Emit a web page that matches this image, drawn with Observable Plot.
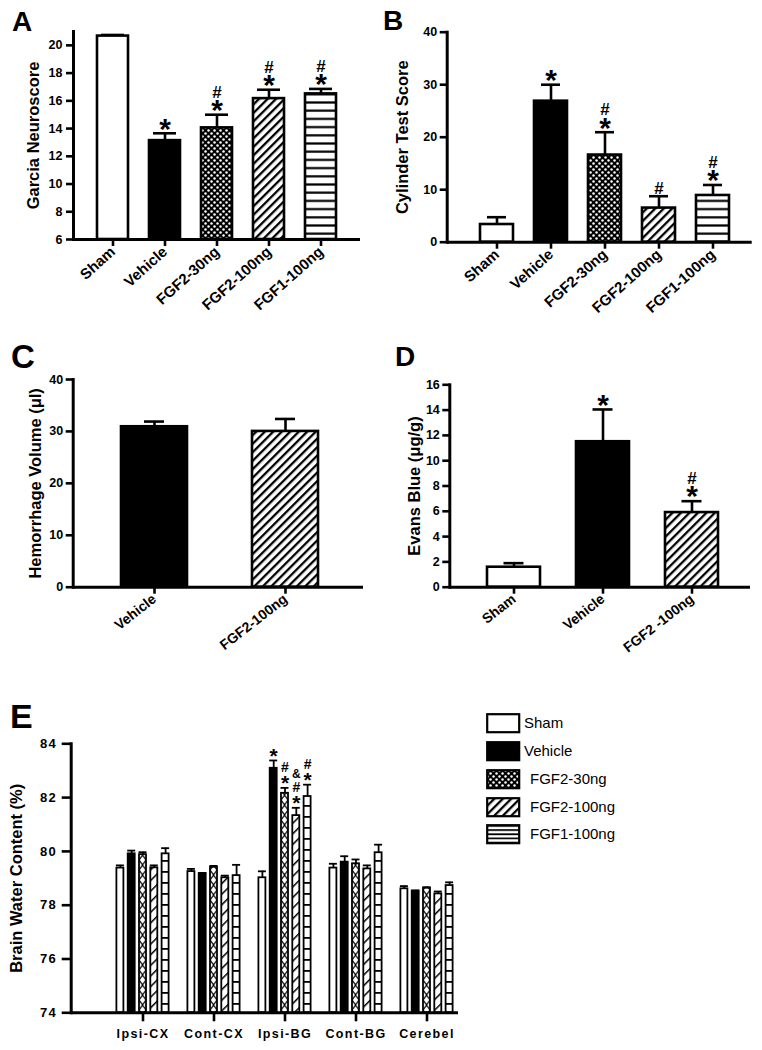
<!DOCTYPE html>
<html><head><meta charset="utf-8">
<script src="https://cdn.jsdelivr.net/npm/d3@7"></script>
<script src="https://cdn.jsdelivr.net/npm/@observablehq/plot@0.6"></script>
<style>
body{margin:0;background:#fff;font-family:"Liberation Sans",Arial,sans-serif;}
#root{position:relative;width:762px;height:1050px;overflow:hidden;background:#fff;}
.panel{position:absolute;}
.letter{position:absolute;font-weight:bold;line-height:1;color:#000;}
.lrow{position:absolute;height:20px;}
.lrow svg{position:absolute;left:0;top:0;}
.lrow span{position:absolute;top:1px;font-size:15px;white-space:pre;color:#000;}
.pe g[aria-label="x-axis tick label"] text,.pe g[aria-label="y-axis tick label"] text{letter-spacing:1.4px;}
</style></head><body>
<svg width="0" height="0" style="position:absolute">
<defs>
  <pattern id="dots" patternUnits="userSpaceOnUse" width="6" height="6">
    <rect width="6" height="6" fill="black"/>
    <circle cx="1.5" cy="1.5" r="1.25" fill="white"/>
    <circle cx="4.5" cy="4.5" r="1.25" fill="white"/>
  </pattern>
  <pattern id="diag" patternUnits="userSpaceOnUse" width="6" height="6" patternTransform="rotate(45)">
    <rect width="6" height="6" fill="white"/>
    <rect width="2.3" height="6" fill="black"/>
  </pattern>
  <pattern id="hlines" patternUnits="userSpaceOnUse" width="8" height="8.2">
    <rect width="8" height="8.2" fill="white"/>
    <rect y="3" width="8" height="2.2" fill="black"/>
  </pattern>
  <pattern id="diagE" patternUnits="userSpaceOnUse" width="7.5" height="7.5" patternTransform="rotate(45)">
    <rect width="7.5" height="7.5" fill="white"/>
    <rect width="1.5" height="7.5" fill="black"/>
  </pattern>
  <pattern id="hlinesE" patternUnits="userSpaceOnUse" width="10" height="11">
    <rect width="10" height="11" fill="white"/>
    <rect y="4" width="10" height="1.8" fill="black"/>
  </pattern>
  <pattern id="xhatch" patternUnits="userSpaceOnUse" x="139" width="7.1" height="10">
    <rect width="7.1" height="10" fill="white"/>
    <path d="M0,0L7.1,10M7.1,0L0,10" stroke="black" stroke-width="1.3"/>
  </pattern>
  <pattern id="hlinesL" patternUnits="userSpaceOnUse" width="10" height="4.2">
    <rect width="10" height="4.2" fill="white"/>
    <rect y="1" width="10" height="1.7" fill="black"/>
  </pattern>
</defs></svg>
<div id="root"></div>
<script>
// ---------- DATA ----------
// Panel A: Garcia Neuroscore
const catsA = ["Sham", "Vehicle", "FGF2-30ng", "FGF2-100ng", "FGF1-100ng"];
const meanA = [20.67, 13.13, 14.05, 16.16, 16.5];
const semA  = [0.08, 0.53, 0.95, 0.64, 0.36];
const noteA = ["", "*", "*#", "*#", "*#"];
const ticksA = [6, 8, 10, 12, 14, 16, 18, 20];

// Panel B: Cylinder Test Score
const catsB = ["Sham", "Vehicle", "FGF2-30ng", "FGF2-100ng", "FGF1-100ng"];
const meanB = [3.37, 26.86, 16.6, 6.5, 8.9];
const semB  = [1.39, 3.14, 4.35, 2.26, 2.0];
const noteB = ["", "*", "*#", "#", "*#"];
const ticksB = [0, 10, 20, 30, 40];

// Panel C: Hemorrhage Volume
const catsC = ["Vehicle", "FGF2-100ng"];
const meanC = [30.9, 30.0];
const semC  = [1.0, 2.4];
const noteC = ["", ""];
const ticksC = [0, 10, 20, 30, 40];

// Panel D: Evans Blue
const catsD = ["Sham", "Vehicle", "FGF2 -100ng"];
const meanD = [1.58, 11.5, 5.9];
const semD  = [0.32, 2.55, 0.9];
const noteD = ["", "*", "*#"];
const ticksD = [0, 2, 4, 6, 8, 10, 12, 14, 16];

// Panel E: Brain Water Content
const regionsE = ["Ipsi-CX", "Cont-CX", "Ipsi-BG", "Cont-BG", "Cerebel"];
const seriesE  = ["Sham", "Vehicle", "FGF2-30ng", "FGF2-100ng", "FGF1-100ng"];
const shamE     = [79.38, 79.25, 79.02, 79.38, 78.61];
const vehicleE  = [79.91, 79.17, 83.09, 79.60, 78.52];
const fgf2_30E  = [79.88, 79.41, 82.16, 79.54, 78.63];
const fgf2_100E = [79.39, 79.02, 81.33, 79.35, 78.42];
const fgf1_100E = [79.91, 79.10, 82.04, 79.95, 78.73];
const shamSemE     = [0.10, 0.10, 0.24, 0.16, 0.10];
const vehicleSemE  = [0.12, 0.03, 0.29, 0.22, 0.03];
const fgf2_30SemE  = [0.09, 0.05, 0.20, 0.16, 0.04];
const fgf2_100SemE = [0.09, 0.08, 0.29, 0.13, 0.09];
const fgf1_100SemE = [0.21, 0.40, 0.44, 0.30, 0.12];
const shamNoteE     = ["", "", "", "", ""];
const vehicleNoteE  = ["", "", "*", "", ""];
const fgf2_30NoteE  = ["", "", "*#", "", ""];
const fgf2_100NoteE = ["", "", "*#&", "", ""];
const fgf1_100NoteE = ["", "", "*#", "", ""];
const ticksE = [74, 76, 78, 80, 82, 84];

// ---------- STYLE ----------
const FONT = "'Liberation Sans', Arial, sans-serif";
const FILL = {"Sham": "white", "Vehicle": "black", "FGF2-30ng": "url(#dots)", "FGF2-100ng": "url(#diag)", "FGF2 -100ng": "url(#diag)", "FGF1-100ng": "url(#hlines)"};
const FILL_E = {"Sham": "white", "Vehicle": "black", "FGF2-30ng": "url(#xhatch)", "FGF2-100ng": "url(#diagE)", "FGF1-100ng": "url(#hlinesE)"};
const FILL_L = {"Sham": "white", "Vehicle": "black", "FGF2-30ng": "url(#dots)", "FGF2-100ng": "url(#diag)", "FGF1-100ng": "url(#hlinesL)"};
const GLYPH_C = {"*": 0.46, "#": 0.35, "&": 0.36};

function noteMarks(rows, opts, fs, base, stepL, extra = {}) {
  const out = [];
  for (const [, rs] of d3.group(rows, d => d.sym + "|" + d.level)) {
    const sym = rs[0].sym, level = rs[0].level, f = fs[sym];
    const dy = -(base + level * stepL) - (0.32 - GLYPH_C[sym]) * f;
    out.push(Plot.text(rs, {...opts, text: () => sym, fontSize: f, fontWeight: "bold", dy, ...extra}));
  }
  return out;
}

const root = document.getElementById("root");
function place(el, left, top) {
  const d = document.createElement("div");
  d.className = "panel"; d.style.left = left + "px"; d.style.top = top + "px";
  d.appendChild(el); root.appendChild(d);
}
function letter(t, left, top, fs) {
  const d = document.createElement("div");
  d.className = "letter"; d.textContent = t;
  d.style.left = left + "px"; d.style.top = top + "px"; d.style.fontSize = fs + "px";
  root.appendChild(d);
}

function barPanel(c) {
  const n = c.cats.length;
  const step = (c.xRange[1] - c.xRange[0]) / n;
  const pi = 1 - c.bw / step;
  const rows = c.cats.map((k, i) => ({cat: k, mean: c.means[i], top: c.means[i] + c.sems[i]}));
  const nrows = [];
  rows.forEach((r, i) => [...c.notes[i]].forEach((s, l) => nrows.push({cat: r.cat, top: r.top, sym: s, level: l})));
  const marks = [
    Plot.ruleX(rows, {x: "cat", y1: "mean", y2: "top", strokeWidth: 2.6}),
    Plot.tickY(rows, {x: "cat", y: "top", strokeWidth: 2.6, inset: (c.bw - c.capW) / 2}),
    ...rows.map(r => Plot.barY([r], {x: "cat", y1: c.yDomain[0], y2: "mean", fill: FILL[r.cat], stroke: "black", strokeWidth: 2.6})),
    ...noteMarks(nrows, {x: "cat", y: "top"}, {"*": 30, "#": 17, "&": 16}, 8.5, 14.5),
    Plot.ruleY([c.yDomain[0]], {strokeWidth: 3}),
    Plot.frame({anchor: "left", strokeWidth: 3}),
    Plot.axisY({ticks: c.yTicks, tickSize: 7, tickPadding: c.tickPad, strokeWidth: 2.6, fontSize: 12.5, fontWeight: "bold", label: null}),
    Plot.axisX({tickSize: 7, tickPadding: 3, tickRotate: c.rot, fontSize: c.xFs, fontWeight: "bold", strokeWidth: 2.6, label: null}),
    Plot.text([c.yLabel], {frameAnchor: "left", textAnchor: "middle", rotate: -90, dx: c.labelDx, fontSize: 16.5, fontWeight: "bold"})
  ];
  return Plot.plot({
    width: c.W, height: c.H,
    marginLeft: c.mL, marginTop: c.mT, marginBottom: c.mB, marginRight: c.mR,
    x: {domain: c.cats, range: c.xRange, paddingInner: pi, paddingOuter: pi / 2},
    y: {domain: c.yDomain},
    style: {fontFamily: FONT, color: "black", background: "transparent", overflow: "visible"},
    marks
  });
}

place(barPanel({cats: catsA, means: meanA, sems: semA, notes: noteA, yDomain: [6, 21], yTicks: ticksA,
  yLabel: "Garcia Neuroscore", W: 362, H: 330, mL: 73, mT: 31, mB: 91, mR: 2,
  xRange: [85.8, 347.8], bw: 31, capW: 23, labelDx: -40, tickPad: 4, rot: -42, xFs: 15}), 0, 0);

place(barPanel({cats: catsB, means: meanB, sems: semB, notes: noteB, yDomain: [0, 40], yTicks: ticksB,
  yLabel: "Cylinder Test Score", W: 390, H: 330, mL: 76.7, mT: 31.7, mB: 88.3, mR: 8.3,
  xRange: [97.6, 371.4], bw: 33, capW: 19, labelDx: -44, tickPad: 3, rot: -42, xFs: 15}), 370, 0);

place(barPanel({cats: catsC, means: meanC, sems: semC, notes: noteC, yDomain: [0, 40], yTicks: ticksC,
  yLabel: "Hemorrhage Volume (\u03bcl)", W: 370, H: 330, mL: 72.7, mT: 49, mB: 73.3, mR: 7,
  xRange: [88.25, 351.25], bw: 66, capW: 20, labelDx: -37, tickPad: 3, rot: -38, xFs: 14}), 0, 330);

place(barPanel({cats: catsD, means: meanD, sems: semD, notes: noteD, yDomain: [0, 16], yTicks: ticksD,
  yLabel: "Evans Blue (\u03bcg/g)", W: 390, H: 330, mL: 79.3, mT: 54.3, mB: 73.3, mR: 10,
  xRange: [98.5, 365.5], bw: 53, capW: 20, labelDx: -35, tickPad: 3, rot: -38, xFs: 14}), 370, 330);

// ---------- Panel E ----------
const meansE = [shamE, vehicleE, fgf2_30E, fgf2_100E, fgf1_100E];
const semsE = [shamSemE, vehicleSemE, fgf2_30SemE, fgf2_100SemE, fgf1_100SemE];
const notesE = [shamNoteE, vehicleNoteE, fgf2_30NoteE, fgf2_100NoteE, fgf1_100NoteE];
const xRangeE = [107, 462];
const bwE = (xRangeE[1] - xRangeE[0]) / regionsE.length;
const barE = 7, capE = 8, gapE = 11.3;
const marksE = [];
seriesE.forEach((s, k) => {
  const off = (k - 2) * gapE;
  const rs = regionsE.map((g, j) => ({region: g, mean: meansE[k][j], top: meansE[k][j] + semsE[k][j]}));
  const nrows = [];
  regionsE.forEach((g, j) => [...notesE[k][j]].forEach((sym, l) => nrows.push({region: g, top: rs[j].top, sym, level: l})));
  marksE.push(
    Plot.ruleX(rs, {x: "region", y1: "mean", y2: "top", dx: off, strokeWidth: 1.8}),
    Plot.tickY(rs, {x: "region", y: "top", strokeWidth: 1.8, insetLeft: bwE / 2 + off - capE / 2, insetRight: bwE / 2 - off - capE / 2}),
    Plot.barY(rs, {x: "region", y1: 74, y2: "mean", fill: FILL_E[s], stroke: "black", strokeWidth: 1.8,
      insetLeft: bwE / 2 + off - barE / 2, insetRight: bwE / 2 - off - barE / 2}),
    ...noteMarks(nrows, {x: "region", y: "top"}, {"*": 21, "#": 14, "&": 12}, 7.5, 13.5, {dx: off})
  );
});
marksE.push(
  Plot.ruleY([74], {strokeWidth: 3}),
  Plot.frame({anchor: "left", strokeWidth: 3}),
  Plot.axisY({ticks: ticksE, tickSize: 9, tickPadding: 5, strokeWidth: 2.6, fontSize: 13, fontWeight: "bold", label: null}),
  Plot.axisX({tickSize: 9, tickPadding: 7, fontSize: 12.5, fontWeight: "bold", strokeWidth: 2.6, label: null}),
  Plot.text(["Brain Water Content (%)"], {frameAnchor: "left", textAnchor: "middle", rotate: -90, dx: -54, fontSize: 16.5, fontWeight: "bold"})
);
place(Plot.plot({
  className: "pe",
  width: 470, height: 370,
  marginLeft: 70.7, marginTop: 63.3, marginBottom: 37.7, marginRight: 12,
  x: {domain: regionsE, range: xRangeE, padding: 0},
  y: {domain: [74, 84]},
  style: {fontFamily: FONT, color: "black", background: "transparent", overflow: "visible"},
  marks: marksE
}), 0, 680);

// ---------- Legend E ----------
const legendTops = [713, 741, 769, 797, 824];
const legendIndent = [0, 0, 6, 6, 6];
seriesE.forEach((s, k) => {
  const row = document.createElement("div");
  row.className = "lrow";
  row.style.left = "486px"; row.style.top = legendTops[k] + "px"; row.style.width = "150px";
  row.innerHTML = `<svg width="36" height="21"><rect x="1.2" y="1.2" width="32" height="18" fill="${FILL_L[s]}" stroke="black" stroke-width="2.2"/></svg><span style="left:${38 + legendIndent[k]}px">${s}</span>`;
  root.appendChild(row);
});

// ---------- Panel letters ----------
letter("A", 12, 8, 28);
letter("B", 383, 7, 28);
letter("C", 11, 340, 33);
letter("D", 395, 343, 28);
letter("E", 10, 699, 34);
</script>
</body></html>
